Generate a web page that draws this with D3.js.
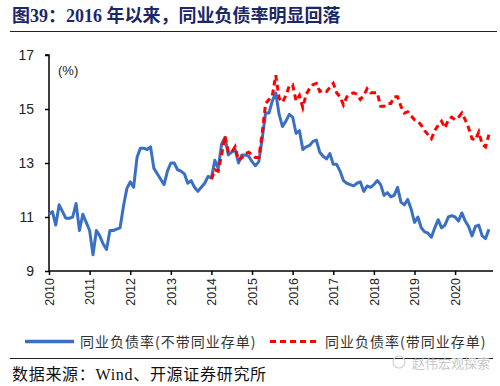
<!DOCTYPE html>
<html>
<head>
<meta charset="utf-8">
<script src="https://d3js.org/d3.v7.min.js"></script>
<style>
  body { margin: 0; background: #fff; }
</style>
</head>
<body>
<script>
// monthly, Jan 2010 .. Nov 2020
const startYear = 2010;
const withoutNCD = [
  11.1, 11.2, 10.7, 11.45, 11.2, 10.95, 10.95, 11.0, 11.5, 10.5, 11.1, 10.8,
  10.5, 9.6, 10.5, 10.3, 10.0, 9.8, 10.5, 10.5, 10.55, 10.6, 11.4, 12.05,
  12.3, 12.1, 13.2, 13.55, 13.55, 13.5, 13.6, 12.8, 12.6, 12.4, 12.2, 12.7,
  13.0, 13.0, 12.75, 12.7, 12.6, 12.25, 12.35, 12.1, 11.95, 12.1, 12.25, 12.5,
  12.45, 13.1, 12.8, 13.7, 13.95, 13.3, 13.4, 13.5, 13.0, 13.3, 13.3, 13.25,
  13.05, 12.9, 13.05, 13.9, 14.85, 14.85, 15.3, 15.6, 14.8, 14.35, 14.55, 14.8,
  14.7, 14.1, 14.2, 13.5, 13.6, 13.65, 13.8, 13.85, 13.4, 13.25, 13.15, 13.35,
  12.95, 12.95, 12.7, 12.35, 12.25, 12.2, 12.15, 12.25, 12.3, 11.95, 12.15, 12.1,
  12.2, 12.35, 12.2, 11.8, 11.9, 11.75, 11.8, 12.1, 11.55, 11.45, 11.65, 11.3,
  10.8, 11.0, 10.6, 10.45, 10.4, 10.25, 10.6, 10.9, 10.6, 10.7, 11.0, 11.05,
  11.0, 10.85, 11.15, 10.85, 10.65, 10.3, 10.65, 10.7, 10.3, 10.2, 10.55
];
// starts Jan 2014 (month index 48)
const withNCDStart = 48;
const withNCD = [
  12.4, 12.75, 12.7, 13.3, 14.0, 13.4, 13.4, 13.6, 13.1, 13.2, 13.35, 13.4,
  13.3, 13.2, 13.2, 14.1, 15.2, 15.35, 15.5, 16.25, 15.4, 15.25, 15.5, 15.85,
  15.9, 15.3, 15.5, 15.05, 15.55, 15.75, 15.9, 15.95, 15.65, 15.7, 15.65, 15.8,
  15.95, 15.6, 15.45, 15.15, 15.45, 15.55, 15.6, 15.55, 15.35, 15.5, 15.75, 15.6,
  15.6, 15.6, 15.1, 15.1, 15.2, 15.2, 15.45, 15.45, 15.1, 14.85, 14.9, 14.75,
  14.6, 14.55, 14.4, 14.2, 14.05, 13.9, 14.2, 14.4, 14.55, 14.3, 14.6, 14.7,
  14.6, 14.7, 14.85, 14.6, 14.3, 13.9, 13.85, 14.15, 13.7, 13.6, 14.05
];
const yTicks = [9, 11, 13, 15, 17];
const xYears = [2010, 2011, 2012, 2013, 2014, 2015, 2016, 2017, 2018, 2019, 2020];
const seriesNames = ["同业负债率(不带同业存单)", "同业负债率(带同业存单)"];
const title = "图39：2016 年以来，同业负债率明显回落";
const source = "数据来源：Wind、开源证券研究所";

const W = 500, H = 386;
const svg = d3.select("body").append("svg")
  .attr("width", W).attr("height", H)
  .style("font-family", "'Liberation Sans', Arial, sans-serif");

// title
svg.append("text")
  .attr("x", 12).attr("y", 21.5)
  .attr("font-family", "'Liberation Serif', 'Noto Sans CJK SC', serif")
  .attr("font-weight", "bold")
  .attr("font-size", 18)
  .attr("fill", "#1b2767")
  .text(title);
svg.append("line")
  .attr("x1", 10).attr("x2", 497).attr("y1", 31.5).attr("y2", 31.5)
  .attr("stroke", "#222").attr("stroke-width", 1);

const margin = { left: 49, right: 493, top: 55, bottom: 271 };
const x = d3.scaleLinear().domain([0, 131.2]).range([margin.left, margin.right]);
const y = d3.scaleLinear().domain([9, 17]).range([margin.bottom, margin.top]);

// y axis
const yAxis = svg.append("g")
  .attr("transform", `translate(${margin.left},0)`)
  .call(d3.axisLeft(y).tickValues(yTicks).tickSize(4).tickPadding(11).tickFormat(d3.format("d")));
yAxis.select(".domain").attr("stroke", "#000").attr("stroke-width", 1.5).attr("d", `M-4,${margin.top}H0V${margin.bottom + 1}`);
yAxis.selectAll(".tick line").attr("stroke", "#000").attr("stroke-width", 1.5);
yAxis.selectAll(".tick text").attr("font-size", 14).attr("fill", "#222");

// x axis
const xAxis = svg.append("g")
  .attr("transform", `translate(0,${margin.bottom})`)
  .call(d3.axisBottom(x)
    .tickValues(xYears.map(yr => (yr - startYear) * 12))
    .tickSize(4)
    .tickFormat((d, i) => xYears[i]));
xAxis.select(".domain").attr("stroke", "#000").attr("stroke-width", 1.5).attr("d", `M${margin.left},0H${margin.right}`);
xAxis.selectAll(".tick line").attr("stroke", "#000").attr("stroke-width", 1.5);
xAxis.selectAll(".tick text")
  .attr("font-size", 12.5).attr("fill", "#222")
  .attr("transform", "rotate(-90)")
  .attr("text-anchor", "end")
  .attr("x", -7).attr("y", 0).attr("dy", "0.35em");

// unit label
svg.append("text")
  .attr("x", 58).attr("y", 75)
  .attr("font-size", 13).attr("fill", "#222")
  .text("(%)");

const line = d3.line()
  .x(d => x(d[0]))
  .y(d => y(d[1]));

svg.append("path")
  .datum(withoutNCD.map((v, i) => [i, v]))
  .attr("fill", "none")
  .attr("stroke", "#3a70c4")
  .attr("stroke-width", 3)
  .attr("stroke-linejoin", "round")
  .attr("d", line);

svg.append("path")
  .datum(withNCD.map((v, i) => [i + withNCDStart, v]))
  .attr("fill", "none")
  .attr("stroke", "#ff0000")
  .attr("stroke-width", 3)
  .attr("stroke-dasharray", "6,4")
  .attr("d", line);

// legend
const lg = svg.append("g").attr("font-family", "'Noto Sans CJK SC', sans-serif")
  .attr("font-size", 14).attr("letter-spacing", 1).attr("fill", "#333");
lg.append("line").attr("x1", 25).attr("x2", 74).attr("y1", 341.5).attr("y2", 341.5)
  .attr("stroke", "#3a70c4").attr("stroke-width", 3.5);
lg.append("text").attr("x", 80).attr("y", 346.5).text(seriesNames[0]);
lg.append("line").attr("x1", 270).attr("x2", 319).attr("y1", 341.5).attr("y2", 341.5)
  .attr("stroke", "#ff0000").attr("stroke-width", 3).attr("stroke-dasharray", "6,4");
lg.append("text").attr("x", 325).attr("y", 346.5).text(seriesNames[1]);

// source
svg.append("line")
  .attr("x1", 10).attr("x2", 493).attr("y1", 358.5).attr("y2", 358.5)
  .attr("stroke", "#222").attr("stroke-width", 1);
svg.append("text")
  .attr("x", 12).attr("y", 380)
  .attr("font-family", "'Liberation Serif', 'Noto Sans CJK SC', serif")
  .attr("font-size", 16).attr("letter-spacing", 0.7).attr("fill", "#111")
  .text(source);
// watermark
svg.append("text")
  .attr("x", 412).attr("y", 368)
  .attr("font-family", "'Noto Sans CJK SC', sans-serif")
  .attr("font-size", 13).attr("fill", "#c8c8c8")
  .text("赵伟宏观探索");
svg.append("circle").attr("cx", 399).attr("cy", 362).attr("r", 6)
  .attr("fill", "none").attr("stroke", "#d0d0d0").attr("stroke-width", 1.2);
</script>
</body>
</html>
